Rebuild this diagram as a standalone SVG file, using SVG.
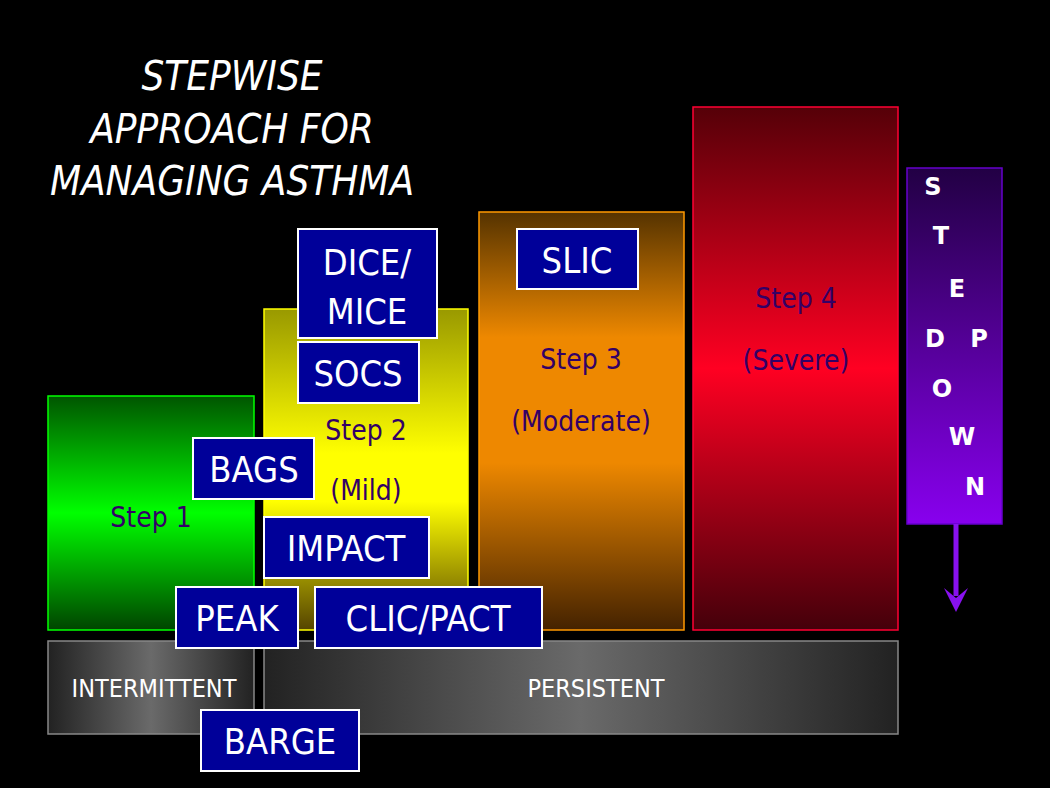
<svg xmlns="http://www.w3.org/2000/svg" width="1050" height="788" viewBox="0 0 1050 788">
<defs>
<linearGradient id="g1" x1="0" y1="0" x2="0" y2="1"><stop offset="0" stop-color="#005500"/><stop offset="0.5" stop-color="#00ff00"/><stop offset="1" stop-color="#004400"/></linearGradient>
<linearGradient id="g2" x1="0" y1="0" x2="0" y2="1"><stop offset="0" stop-color="#999900"/><stop offset="0.45" stop-color="#ffff00"/><stop offset="0.6" stop-color="#ffff00"/><stop offset="1" stop-color="#554400"/></linearGradient>
<linearGradient id="g3" x1="0" y1="0" x2="0" y2="1"><stop offset="0" stop-color="#553300"/><stop offset="0.3" stop-color="#ee8800"/><stop offset="0.6" stop-color="#ee8800"/><stop offset="1" stop-color="#442200"/></linearGradient>
<linearGradient id="g4" x1="0" y1="0" x2="0" y2="1"><stop offset="0" stop-color="#550008"/><stop offset="0.5" stop-color="#ff0022"/><stop offset="1" stop-color="#44000a"/></linearGradient>
<linearGradient id="g5" x1="0" y1="0" x2="0" y2="1"><stop offset="0" stop-color="#220044"/><stop offset="1" stop-color="#8800ee"/></linearGradient>
<linearGradient id="gg" x1="0" y1="0" x2="1" y2="0"><stop offset="0" stop-color="#222"/><stop offset="0.5" stop-color="#6a6a6a"/><stop offset="1" stop-color="#222"/></linearGradient>
<marker id="ah" viewBox="0 0 20 30" refX="10" refY="28" markerWidth="20" markerHeight="30" markerUnits="userSpaceOnUse" orient="auto-start-reverse"><path d="M0,0 L10,8 L20,0 L10,30 Z" fill="#8811ee" transform="rotate(-90 10 15) translate(0,0)"/></marker>
</defs>
<style>
.box{fill:#000099;stroke:#ffffff;stroke-width:2}
.bt{font-family:"DejaVu Sans Condensed","DejaVu Sans",sans-serif;font-size:36px;fill:#fff;text-anchor:middle}
.st{font-family:"DejaVu Sans Condensed","DejaVu Sans",sans-serif;font-size:28px;fill:#330066;text-anchor:middle}
.lt{font-family:"DejaVu Sans Condensed","DejaVu Sans",sans-serif;font-size:25px;fill:#fff;text-anchor:middle}
.sd{font-family:"DejaVu Sans",sans-serif;font-weight:bold;font-size:24px;fill:#fff;text-anchor:middle}
.ti{font-family:"DejaVu Sans Condensed","DejaVu Sans",sans-serif;font-style:italic;font-size:40px;fill:#fff;text-anchor:middle}
</style>
<rect width="1050" height="788" fill="#000"/>
<g id="title"><text class="ti" x="232" y="90">STEPWISE</text><text class="ti" x="232" y="143">APPROACH FOR</text><text class="ti" x="232" y="195">MANAGING ASTHMA</text></g>
<g id="step1"><rect x="48" y="396" width="206" height="234" fill="url(#g1)" stroke="#00ff00" stroke-width="1.5"/><text class="st" x="151" y="527">Step 1</text></g>
<g id="step2"><rect x="264" y="309" width="204" height="321" fill="url(#g2)" stroke="#ffff00" stroke-width="1.5"/><text class="st" x="366" y="440">Step 2</text><text class="st" x="366" y="500">(Mild)</text></g>
<g id="step3"><rect x="479" y="212" width="205" height="418" fill="url(#g3)" stroke="#ff9900" stroke-width="1.5"/><text class="st" x="581" y="369">Step 3</text><text class="st" x="581" y="431">(Moderate)</text></g>
<g id="step4"><rect x="693" y="107" width="205" height="523" fill="url(#g4)" stroke="#ff0033" stroke-width="1.5"/><text class="st" x="796" y="308">Step 4</text><text class="st" x="796" y="370">(Severe)</text></g>
<g id="intermittent"><rect x="48" y="641" width="206" height="93" fill="url(#gg)" stroke="#888" stroke-width="1.5"/><text class="lt" x="154" y="697">INTERMITTENT</text></g>
<g id="persistent"><rect x="264" y="641" width="634" height="93" fill="url(#gg)" stroke="#888" stroke-width="1.5"/><text class="lt" x="596" y="697">PERSISTENT</text></g>
<g id="stepdown"><rect x="907" y="168" width="95" height="356" fill="url(#g5)" stroke="#6600cc" stroke-width="1.5"/>
<text class="sd" x="933" y="195">S</text><text class="sd" x="941" y="244">T</text><text class="sd" x="957" y="297">E</text><text class="sd" x="935" y="347">D</text><text class="sd" x="979" y="347">P</text><text class="sd" x="942" y="397">O</text><text class="sd" x="962" y="445">W</text><text class="sd" x="975" y="495">N</text></g>
<g id="connectors"><line x1="956" y1="524" x2="956" y2="596" stroke="#8811ee" stroke-width="5"/><path d="M944,588 L956,598 L968,588 L956,612 Z" fill="#8811ee"/></g>
<g id="dice"><rect class="box" x="298" y="229" width="139" height="109"/><text class="bt" x="367" y="275">DICE/</text><text class="bt" x="367" y="324">MICE</text></g>
<g id="slic"><rect class="box" x="517" y="229" width="121" height="60"/><text class="bt" x="577" y="273">SLIC</text></g>
<g id="socs"><rect class="box" x="298" y="342" width="121" height="61"/><text class="bt" x="358" y="386">SOCS</text></g>
<g id="bags"><rect class="box" x="193" y="438" width="121" height="61"/><text class="bt" x="254" y="482">BAGS</text></g>
<g id="impact"><rect class="box" x="264" y="517" width="165" height="61"/><text class="bt" x="346" y="561">IMPACT</text></g>
<g id="peak"><rect class="box" x="176" y="587" width="122" height="61"/><text class="bt" x="237" y="631">PEAK</text></g>
<g id="clic"><rect class="box" x="315" y="587" width="227" height="61"/><text class="bt" x="428" y="631">CLIC/PACT</text></g>
<g id="barge"><rect class="box" x="201" y="710" width="158" height="61"/><text class="bt" x="280" y="754">BARGE</text></g>
</svg>
